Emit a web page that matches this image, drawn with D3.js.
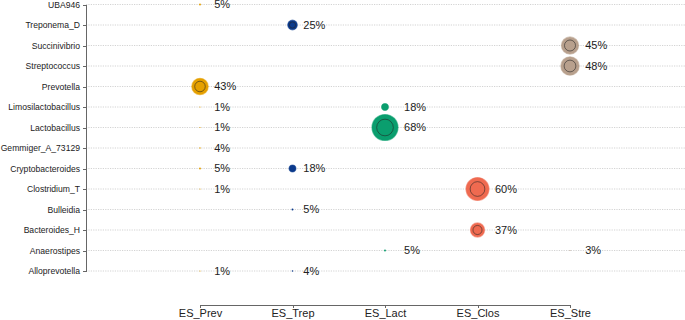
<!DOCTYPE html>
<html lang="en">
<head>
    <meta charset="UTF-8">
    <title>Genus enrichment by enterotype</title>
    <script src="https://d3js.org/d3.v7.min.js"></script>
    <style>
        body { margin: 0; background: #fff; }
        svg { display: block; font-family: "Liberation Sans", Arial, sans-serif; }
        .grid line { stroke: #c8c8c8; stroke-width: 0.8px; stroke-dasharray: 1.2,1.2; }
        .axis path, .axis line { stroke: #666; stroke-width: 1px; shape-rendering: crispEdges; }
        .y.axis text { font-size: 8.6px; fill: #222; }
        .x.axis text { font-size: 11px; fill: #222; }
        .lbl { font-size: 11px; fill: #222; }
    </style>
</head>
<body>
<svg width="685" height="320"></svg>
<script>
    // Genera (top to bottom) and enterotype groups
    const genera = ["UBA946", "Treponema_D", "Succinivibrio", "Streptococcus", "Prevotella",
        "Limosilactobacillus", "Lactobacillus", "Gemmiger_A_73129", "Cryptobacteroides",
        "Clostridium_T", "Bulleidia", "Bacteroides_H", "Anaerostipes", "Alloprevotella"];
    const groups = ["ES_Prev", "ES_Trep", "ES_Lact", "ES_Clos", "ES_Stre"];
    const groupColors = ["#e5a000", "#0b3a8c", "#0a9e6e", "#ef6a50", "#b8a08d"];

    // Points: genus, group, percentage
    const pointGenus = ["UBA946", "Treponema_D", "Succinivibrio", "Streptococcus", "Prevotella",
        "Limosilactobacillus", "Limosilactobacillus", "Lactobacillus", "Lactobacillus",
        "Gemmiger_A_73129", "Cryptobacteroides", "Cryptobacteroides", "Clostridium_T", "Clostridium_T",
        "Bulleidia", "Bacteroides_H", "Anaerostipes", "Anaerostipes", "Alloprevotella", "Alloprevotella"];
    const pointGroup = ["ES_Prev", "ES_Trep", "ES_Stre", "ES_Stre", "ES_Prev",
        "ES_Prev", "ES_Lact", "ES_Prev", "ES_Lact",
        "ES_Prev", "ES_Prev", "ES_Trep", "ES_Prev", "ES_Clos",
        "ES_Trep", "ES_Clos", "ES_Lact", "ES_Stre", "ES_Prev", "ES_Trep"];
    const pointValue = [5, 25, 45, 48, 43,
        1, 18, 1, 68,
        4, 5, 18, 1, 60,
        5, 37, 5, 3, 1, 4];

    const points = pointGenus.map((g, i) => ({genus: g, group: pointGroup[i], value: pointValue[i]}));

    const svg = d3.select("svg");

    const x = d3.scalePoint().domain(groups).range([200, 570]);
    const y = d3.scalePoint().domain(genera).range([4.5, 271]);
    const r = d3.scaleLinear().domain([0, 70]).range([0, 13.4]);
    const color = d3.scaleOrdinal().domain(groups).range(groupColors);

    // dotted horizontal grid
    svg.append("g")
        .attr("class", "grid")
        .selectAll("line")
        .data(genera)
        .join("line")
        .attr("x1", 86).attr("x2", 685)
        .attr("y1", d => y(d)).attr("y2", d => y(d));

    // Y axis
    svg.append("g")
        .attr("class", "y axis")
        .attr("transform", "translate(86,0)")
        .call(d3.axisLeft(y).tickSize(3).tickPadding(3).tickSizeOuter(0));

    // X axis
    svg.append("g")
        .attr("class", "x axis")
        .attr("transform", "translate(0,305)")
        .call(d3.axisBottom(x).tickSize(3).tickPadding(1).tickSizeOuter(0));

    // label offset per group based on the largest circle in that group
    const maxR = {};
    groups.forEach(g => {
        maxR[g] = d3.max(points.filter(p => p.group === g), p => r(p.value));
    });

    const pts = svg.append("g").selectAll("g")
        .data(points)
        .join("g")
        .attr("transform", d => "translate(" + x(d.group) + "," + y(d.genus) + ")");

    pts.append("circle")
        .attr("r", d => Math.max(r(d.value), 0.6))
        .attr("fill", d => color(d.group))
        .attr("stroke", d => color(d.group))
        .attr("stroke-opacity", 0.55)
        .attr("stroke-width", d => r(d.value) > 3 ? 1.2 : 0);

    pts.filter(d => r(d.value) > 4)
        .append("circle")
        .attr("r", d => r(d.value) * 0.64)
        .attr("fill", "none")
        .attr("stroke", "#222")
        .attr("stroke-opacity", 0.8)
        .attr("stroke-width", 0.7);

    pts.append("text")
        .attr("class", "lbl")
        .attr("x", d => maxR[d.group] + 6)
        .attr("dy", "0.36em")
        .text(d => d.value + "%");
</script>
</body>
</html>
